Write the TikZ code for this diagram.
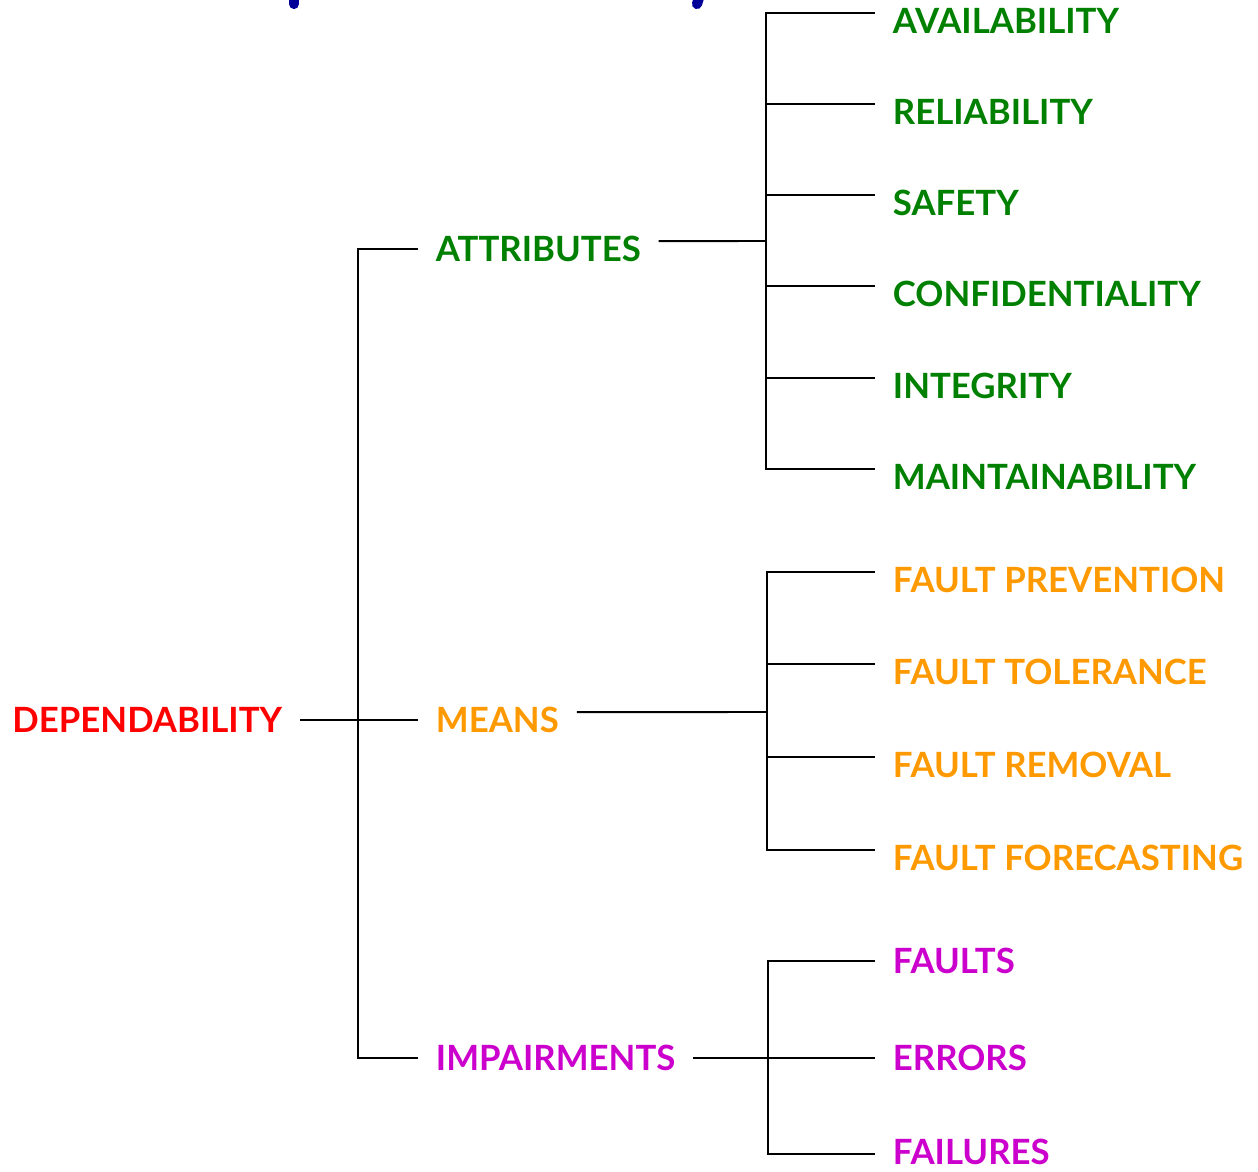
\documentclass[tikz,border=0pt]{standalone}
\usepackage{fontspec}
\setmainfont{Lato}
\definecolor{attrgreen}{RGB}{0,128,0}
\definecolor{meansorange}{RGB}{255,153,0}
\definecolor{impmagenta}{RGB}{204,0,204}
\definecolor{titleblue}{RGB}{0,0,153}
\begin{document}
\begin{tikzpicture}[
                x=0.02cm, y=-0.02cm,
                every node/.style={font=\bfseries\fontsize{19.8}{20}\selectfont, inner xsep=10pt, inner ysep=0pt},
                attr/.style={text=attrgreen, anchor=west},
                means/.style={text=meansorange, anchor=west},
                imp/.style={text=impmagenta, anchor=west},
                link/.style={line width=0.85pt},
                up/.style={yshift=4.5pt},
            ]
            \useasboundingbox (0,0) rectangle (1258,1171);
            % cut-off title above
            \draw[titleblue, line width=5.8pt, line cap=round] (294,-12) -- (294,4);
            \draw[titleblue, line width=5.8pt, line cap=round] (702,-12) -- (697,4);
            % root and first level
            \node[text=red, anchor=east] (dep) at (300,720) {DEPENDABILITY};
            \node[attr] (attributes) at (418,249) {ATTRIBUTES};
            \node[means] (means) at (418,720) {MEANS};
            \node[imp] (impair) at (418,1058) {IMPAIRMENTS};
            \coordinate (jroot) at (358,720);
            \draw[link] (dep.east) -- (means.west);
            \draw[link] (attributes.west) -| (jroot) |- (impair.west);
            % attributes
            \coordinate (ja) at (766,241);
            \node[attr] (avail) at (875,21) {AVAILABILITY};
            \node[attr] (relia) at (875,112) {RELIABILITY};
            \node[attr] (safety) at (875,203) {SAFETY};
            \node[attr] (confid) at (875,294) {CONFIDENTIALITY};
            \node[attr] (integ) at (875,386) {INTEGRITY};
            \node[attr] (maint) at (875,477) {MAINTAINABILITY};
            \draw[line width=1.1pt] ([up]attributes.east) -- (ja);
            \foreach \n in {avail,relia,safety,confid,integ,maint}
                \draw[link] (ja) |- ([up]\n.west);
            % means
            \coordinate (jm) at (767,712);
            \node[means] (fprev) at (875,580) {FAULT PREVENTION};
            \node[means] (ftol) at (875,672) {FAULT TOLERANCE};
            \node[means] (frem) at (875,765) {FAULT REMOVAL};
            \node[means] (ffore) at (875,858) {FAULT FORECASTING};
            \draw[line width=1.1pt] ([up]means.east) -- (jm);
            \foreach \n in {fprev,ftol,frem,ffore}
                \draw[link] (jm) |- ([up]\n.west);
            % impairments
            \coordinate (ji) at (768,1058);
            \node[imp] (faults) at (875,961) {FAULTS};
            \node[imp] (errors) at (875,1058) {ERRORS};
            \node[imp] (failures) at (875,1152) {FAILURES};
            \draw[line width=1.1pt] (impair.east) -- (ji);
            \foreach \n in {faults,errors}
                \draw[link] (ji) |- (\n.west);
            \draw[link] (ji) |- ([yshift=-1pt]failures.west);
            \end{tikzpicture}
\end{document}
